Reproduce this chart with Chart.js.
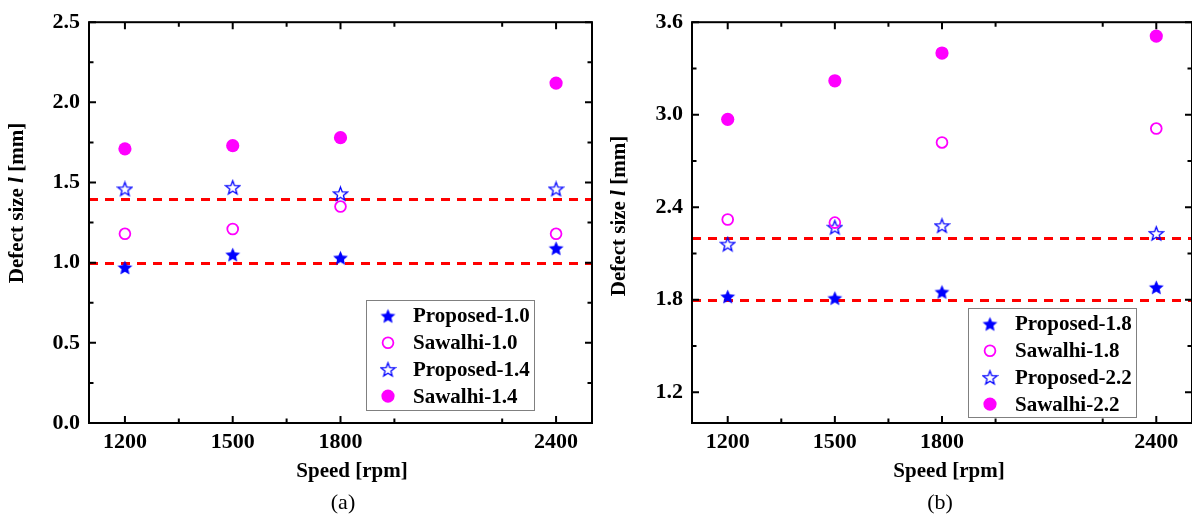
<!DOCTYPE html>
<html lang="en">
<head>
<meta charset="UTF-8" />
<title>Defect size vs speed</title>
<script src="https://cdn.jsdelivr.net/npm/chart.js"></script>
<style>
  html, body { margin: 0; padding: 0; background: #fff; overflow: hidden; width: 1192px; height: 517px; }
  .panel { position: absolute; top: 0; width: 600px; height: 517px; }
  #panelA { left: 0; }
  #panelB { left: 600px; }
</style>
</head>
<body>
<div id="panelA" class="panel"><canvas id="chartA"></canvas></div>
<div id="panelB" class="panel"><canvas id="chartB"></canvas></div>

<script>
  // shared x axis
  const speeds = [1200, 1500, 1800, 2400];
  const speedMinor = [1350, 1650, 1950, 2250];
  const speedRange = [1100, 2500];

  // panel (a)
  const proposed10 = [0.97, 1.05, 1.03, 1.09];
  const sawalhi10  = [1.18, 1.21, 1.35, 1.18];
  const proposed14 = [1.46, 1.47, 1.43, 1.46];
  const sawalhi14  = [1.71, 1.73, 1.78, 2.12];
  const refLinesA  = [1.0, 1.4];
  const yTicksA    = [0, 0.5, 1.0, 1.5, 2.0, 2.5];
  const yRangeA    = [0, 2.5];

  // panel (b)
  const proposed18 = [1.82, 1.81, 1.85, 1.88];
  const sawalhi18  = [2.32, 2.30, 2.82, 2.91];
  const proposed22 = [2.16, 2.27, 2.28, 2.23];
  const sawalhi22  = [2.97, 3.22, 3.40, 3.51];
  const refLinesB  = [1.8, 2.2];
  const yTicksB    = [1.2, 1.8, 2.4, 3.0, 3.6];
  const yRangeB    = [1.0, 3.6];

  const BLUE = '#0000ff';
  const MAGENTA = '#ff00ff';
  const FAMILY = '"Liberation Serif", "Times New Roman", serif';

  // five-pointed star marker, drawn once and reused as pointStyle
  function starIcon(filled) {
    const c = document.createElement('canvas');
    c.width = 17; c.height = 17;
    const g = c.getContext('2d');
    const R = filled ? 7.8 : 7.3;
    const r = R * (filled ? 0.46 : 0.42);
    g.beginPath();
    for (let i = 0; i < 10; i++) {
      const a = -Math.PI / 2 + i * Math.PI / 5;
      const rad = i % 2 ? r : R;
      g.lineTo(8.5 + rad * Math.cos(a), 9.2 + rad * Math.sin(a));
    }
    g.closePath();
    if (filled) { g.fillStyle = BLUE; g.fill(); }
    else { g.strokeStyle = BLUE; g.lineWidth = 1.3; g.stroke(); }
    return c;
  }

  const markers = {
    starFilled:   { pointStyle: starIcon(true),  pointRadius: 8, borderWidth: 0 },
    starOpen:     { pointStyle: starIcon(false), pointRadius: 8, borderWidth: 0 },
    circleOpen:   { pointStyle: 'circle', pointRadius: 5.4, borderColor: MAGENTA, backgroundColor: 'rgba(0,0,0,0)', borderWidth: 1.8 },
    circleFilled: { pointStyle: 'circle', pointRadius: 6.6, borderColor: MAGENTA, backgroundColor: MAGENTA, borderWidth: 0 }
  };

  function series(label, values, marker) {
    return Object.assign({
      label: label,
      data: speeds.map((s, i) => ({ x: s, y: values[i] })),
      showLine: false
    }, markers[marker]);
  }

  function midpoints(arr) {
    const out = [];
    for (let i = 1; i < arr.length; i++) out.push((arr[i - 1] + arr[i]) / 2);
    return out;
  }

  function drawYTitle(ctx, cx, cy) {
    const parts = [['Defect size ', 'bold'], ['l', 'italic bold'], [' [mm]', 'bold']];
    ctx.save();
    ctx.translate(cx, cy);
    ctx.rotate(-Math.PI / 2);
    ctx.fillStyle = '#000';
    ctx.textBaseline = 'middle';
    ctx.textAlign = 'left';
    let total = 0;
    const widths = parts.map(p => {
      ctx.font = p[1] + ' 21px ' + FAMILY;
      const w = ctx.measureText(p[0]).width;
      total += w;
      return w;
    });
    let x = -total / 2;
    parts.forEach((p, i) => {
      ctx.font = p[1] + ' 21px ' + FAMILY;
      ctx.fillText(p[0], x, 0);
      x += widths[i];
    });
    ctx.restore();
  }

  // axes frame with inward ticks, reference lines, titles and boxed legend
  const framePlugin = {
    id: 'frame',
    beforeDatasetsDraw(chart, args, opts) {
      const { ctx, chartArea: a, scales: { y } } = chart;
      ctx.save();
      ctx.strokeStyle = '#ff0000';
      ctx.lineWidth = 3;
      ctx.setLineDash([9, 7]);
      opts.refLines.forEach(v => {
        const py = Math.round(y.getPixelForValue(v)) + 0.5;
        ctx.beginPath();
        ctx.moveTo(a.left, py);
        ctx.lineTo(a.right, py);
        ctx.stroke();
      });
      ctx.restore();
    },
    afterDraw(chart, args, opts) {
      const { ctx, chartArea: a, scales: { x, y } } = chart;
      ctx.save();
      ctx.strokeStyle = '#000';
      ctx.lineWidth = 2;
      ctx.strokeRect(a.left, a.top, a.right - a.left, a.bottom - a.top);

      const tick = (px, len, vertical) => {
        ctx.beginPath();
        if (vertical) {
          ctx.moveTo(px, a.bottom); ctx.lineTo(px, a.bottom - len);
          ctx.moveTo(px, a.top);    ctx.lineTo(px, a.top + len);
        } else {
          ctx.moveTo(a.left, px);  ctx.lineTo(a.left + len, px);
          ctx.moveTo(a.right, px); ctx.lineTo(a.right - len, px);
        }
        ctx.stroke();
      };
      speeds.forEach(v => tick(x.getPixelForValue(v), 7, true));
      speedMinor.forEach(v => tick(x.getPixelForValue(v), 4.5, true));
      opts.yTicks.forEach(v => tick(y.getPixelForValue(v), 7, false));
      midpoints(opts.yTicks).forEach(v => tick(y.getPixelForValue(v), 4.5, false));

      // axis titles and caption
      ctx.fillStyle = '#000';
      ctx.textAlign = 'center';
      ctx.textBaseline = 'middle';
      ctx.font = 'bold 21px ' + FAMILY;
      ctx.fillText('Speed [rpm]', opts.xTitle[0], opts.xTitle[1]);
      ctx.font = '22px ' + FAMILY;
      ctx.fillText(opts.caption, opts.captionAt[0], opts.captionAt[1]);
      drawYTitle(ctx, opts.yTitle[0], opts.yTitle[1]);

      // legend
      const L = opts.legend;
      ctx.lineWidth = 1;
      ctx.strokeStyle = '#808080';
      ctx.fillStyle = '#fff';
      ctx.fillRect(L.left, L.top, L.width, L.height);
      ctx.strokeRect(L.left + 0.5, L.top + 0.5, L.width, L.height);
      chart.data.datasets.forEach((ds, i) => {
        const cy = L.top + 16 + i * 26.7;
        const cx = L.left + 22;
        if (ds.pointStyle instanceof HTMLCanvasElement) {
          ctx.drawImage(ds.pointStyle, cx - ds.pointStyle.width / 2, cy - ds.pointStyle.height / 2);
        } else {
          ctx.beginPath();
          ctx.arc(cx, cy, ds.pointRadius, 0, Math.PI * 2);
          if (ds.borderWidth > 0) {
            ctx.strokeStyle = ds.borderColor; ctx.lineWidth = ds.borderWidth; ctx.stroke();
          } else {
            ctx.fillStyle = ds.backgroundColor; ctx.fill();
          }
        }
        ctx.fillStyle = '#000';
        ctx.textAlign = 'left';
        ctx.font = 'bold 21px ' + FAMILY;
        ctx.fillText(ds.label, L.left + 47, cy + 1);
      });
      ctx.restore();
    }
  };

  function makeChart(id, datasets, cfg) {
    return new Chart(document.getElementById(id), {
      type: 'scatter',
      data: { datasets: datasets },
      options: {
        responsive: true,
        maintainAspectRatio: false,
        animation: false,
        layout: { padding: { left: 0, right: cfg.padRight, top: cfg.padTop, bottom: 0 } },
        scales: {
          x: {
            type: 'linear',
            min: speedRange[0], max: speedRange[1],
            afterBuildTicks: s => { s.ticks = speeds.map(v => ({ value: v })); },
            afterFit: s => { s.height = 94; },
            grid: { display: false, drawTicks: false },
            border: { display: false },
            ticks: {
              color: '#000', padding: 6, maxRotation: 0, autoSkip: false,
              callback: v => String(v),
              font: { family: FAMILY, size: 22, weight: 'bold' }
            }
          },
          y: {
            min: cfg.yRange[0], max: cfg.yRange[1],
            afterBuildTicks: s => { s.ticks = cfg.yTicks.map(v => ({ value: v })); },
            afterFit: s => { s.width = cfg.yWidth; },
            grid: { display: false, drawTicks: false },
            border: { display: false },
            ticks: {
              color: '#000', padding: 9,
              callback: v => Number(v).toFixed(1),
              font: { family: FAMILY, size: 22, weight: 'bold' }
            }
          }
        },
        plugins: {
          legend: { display: false },
          tooltip: { enabled: false },
          frame: {
            refLines: cfg.refLines,
            yTicks: cfg.yTicks,
            xTitle: cfg.xTitle,
            yTitle: cfg.yTitle,
            caption: cfg.caption,
            captionAt: cfg.captionAt,
            legend: cfg.legend
          }
        }
      },
      plugins: [framePlugin]
    });
  }

  makeChart('chartA', [
    series('Proposed-1.0', proposed10, 'starFilled'),
    series('Sawalhi-1.0', sawalhi10, 'circleOpen'),
    series('Proposed-1.4', proposed14, 'starOpen'),
    series('Sawalhi-1.4', sawalhi14, 'circleFilled')
  ], {
    padRight: 6, padTop: 17, yWidth: 89,
    yRange: yRangeA, yTicks: yTicksA, refLines: refLinesA,
    xTitle: [352, 472], yTitle: [18, 203],
    caption: '(a)', captionAt: [343, 503],
    legend: { left: 366, top: 300, width: 168, height: 110 }
  });

  makeChart('chartB', [
    series('Proposed-1.8', proposed18, 'starFilled'),
    series('Sawalhi-1.8', sawalhi18, 'circleOpen'),
    series('Proposed-2.2', proposed22, 'starOpen'),
    series('Sawalhi-2.2', sawalhi22, 'circleFilled')
  ], {
    padRight: 5, padTop: 21, yWidth: 92,
    yRange: yRangeB, yTicks: yTicksB, refLines: refLinesB,
    xTitle: [349, 472], yTitle: [20, 216],
    caption: '(b)', captionAt: [340, 503],
    legend: { left: 368, top: 308, width: 168, height: 109 }
  });
</script>
</body>
</html>
